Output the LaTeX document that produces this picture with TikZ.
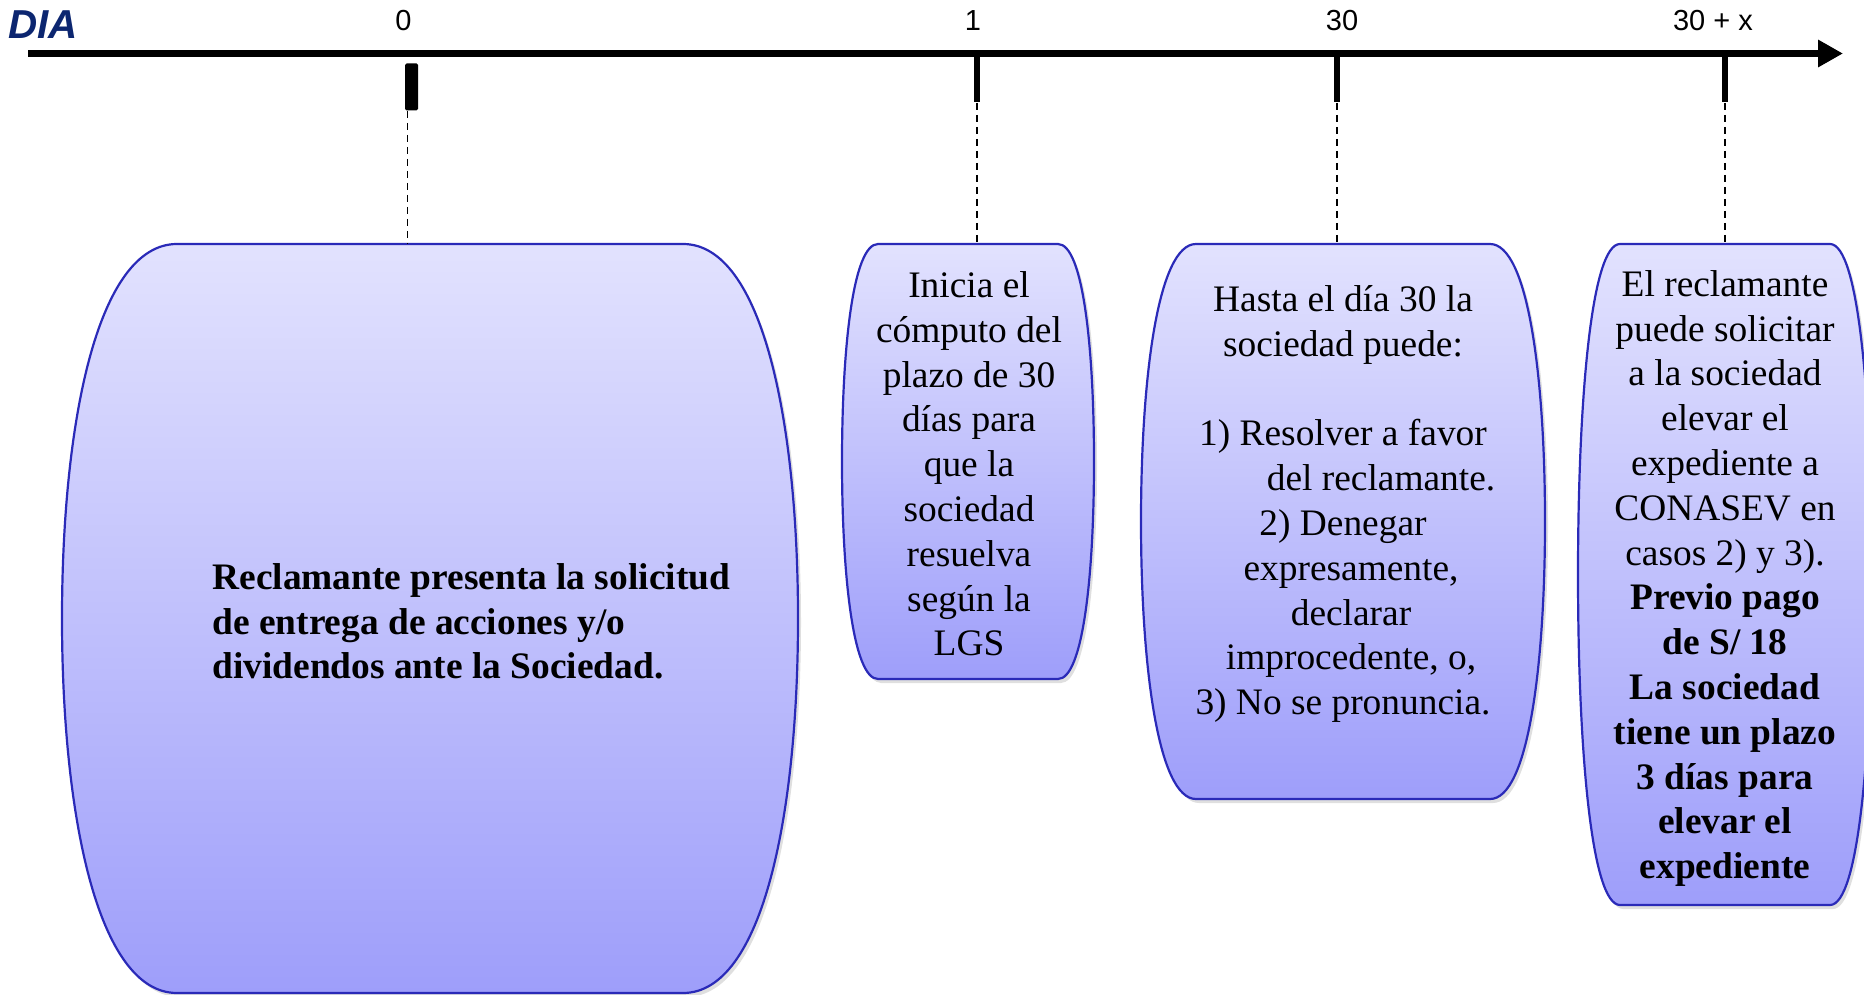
\documentclass[tikz,border=0pt]{standalone}
\usepackage{fontspec}
\setmainfont{Liberation Serif}
\newfontfamily\arialf{Liberation Sans}
\usetikzlibrary{arrows.meta,shadows}
\definecolor{boxtop}{RGB}{226,226,254}
\definecolor{boxbot}{RGB}{158,158,250}
\definecolor{boxline}{RGB}{42,42,184}
\definecolor{navy}{RGB}{12,38,112}
\begin{document}
\begin{tikzpicture}[x=0.5pt,y=-0.5pt,
  barrel/.style={draw=boxline,line width=1.1pt,top color=boxtop,bottom color=boxbot,
    drop shadow={shadow xshift=1.5pt,shadow yshift=-2pt,opacity=0.25}},
  txt/.style={inner sep=0pt,align=center,font=\fontsize{18.7}{22.4}\selectfont},
  ticklbl/.style={font=\arialf\fontsize{14.5}{16}\selectfont,inner sep=0pt},
  tickmark/.style={fill=black,inner sep=0pt,minimum width=3pt,minimum height=25pt,anchor=north},
  guide/.style={dash pattern=on 3.5pt off 2.5pt,line width=0.7pt}]
\useasboundingbox (0,0) rectangle (1864,995);

% axis
\coordinate (axstart) at (28,53.5);
\coordinate (axend) at (1843,53.5);
\draw[line width=3.5pt,-{Triangle[length=12.5pt,width=13pt]}] (axstart) -- (axend);
\node[font=\arialf\bfseries\itshape\fontsize{20.2}{22}\selectfont,text=navy,inner sep=0pt] (dia) at (43,24.5) {DIA};

% ticks
\node[fill=black,inner sep=0pt,minimum width=6.5pt,minimum height=23.5pt,anchor=north,rounded corners=0.8pt] (t0) at (411.5,63) {};
\node[tickmark] (t1) at (977,52) {};
\node[tickmark] (t30) at (1337,52) {};
\node[tickmark] (t30x) at (1725,52) {};

\node[ticklbl] (l0) at (403.5,20.5) {0};
\node[ticklbl] (l1) at (973,20.5) {1};
\node[ticklbl] (l30) at (1342,21) {30};
\node[ticklbl] (l30x) at (1713,21) {30 + x};

% shapes
\path[barrel] (177,244) -- (683,244) .. controls (763,244) and (798,424) .. (798,618.5) .. controls (798,813) and (763,993) .. (683,993) -- (177,993) .. controls (97,993) and (62,813) .. (62,618.5) .. controls (62,424) and (97,244) .. (177,244) -- cycle;
\path[barrel] (878,244) -- (1058,244) .. controls (1083,244) and (1094,348) .. (1094,461.5) .. controls (1094,575) and (1083,679) .. (1058,679) -- (878,679) .. controls (853,679) and (842,575) .. (842,461.5) .. controls (842,348) and (853,244) .. (878,244) -- cycle;
\path[barrel] (1196,244) -- (1490,244) .. controls (1528,244) and (1545,377) .. (1545,521.5) .. controls (1545,666) and (1528,799) .. (1490,799) -- (1196,799) .. controls (1158,799) and (1141,666) .. (1141,521.5) .. controls (1141,377) and (1158,244) .. (1196,244) -- cycle;
\path[barrel] (1620,244) -- (1830,244) .. controls (1859,244) and (1872,403) .. (1872,574.5) .. controls (1872,746) and (1859,905) .. (1830,905) -- (1620,905) .. controls (1591,905) and (1578,746) .. (1578,574.5) .. controls (1578,403) and (1591,244) .. (1620,244) -- cycle;

\coordinate (s1top) at (430,244);
\coordinate (s2top) at (968,244);
\coordinate (s3top) at (1343,244);
\coordinate (s4top) at (1725,244);

% guides
\draw[guide] ([xshift=-2pt]t0.south) -- ([xshift=-2pt]t0.south |- s1top);
\draw[guide] (t1.south) -- (t1.south |- s2top);
\draw[guide] (t30.south) -- (t30.south |- s3top);
\draw[guide] (t30x.south) -- (t30x.south |- s4top);

% texts
\node[txt,align=left,anchor=west,font=\bfseries\fontsize{18.7}{22.3}\selectfont] (b1) at (212,621.5)
  {Reclamante presenta la solicitud\\de entrega de acciones y/o\\dividendos ante la Sociedad.};
\node[txt] (b2) at (969,464)
  {Inicia el\\cómputo del\\plazo de 30\\días para\\que la\\sociedad\\resuelva\\según la\\LGS};
\node[txt] (b3) at (1343,504)
  {Hasta el día 30 la\\sociedad puede:\\[22.4pt]1) Resolver a favor\\\hspace*{38pt}del reclamante.\\2) Denegar\\\hspace*{8pt}expresamente,\\\hspace*{8pt}declarar\\\hspace*{8pt}improcedente, o,\\3) No se pronuncia.};
\node[txt] (b4) at (1725,578.5)
  {El reclamante\\puede solicitar\\a la sociedad\\elevar el\\expediente a\\CONASEV en\\casos 2) y 3).\\\textbf{Previo pago}\\\textbf{de S/ 18}\\\textbf{La sociedad}\\\textbf{tiene un plazo}\\\textbf{3 días para}\\\textbf{elevar el}\\\textbf{expediente}};
\end{tikzpicture}
\end{document}
